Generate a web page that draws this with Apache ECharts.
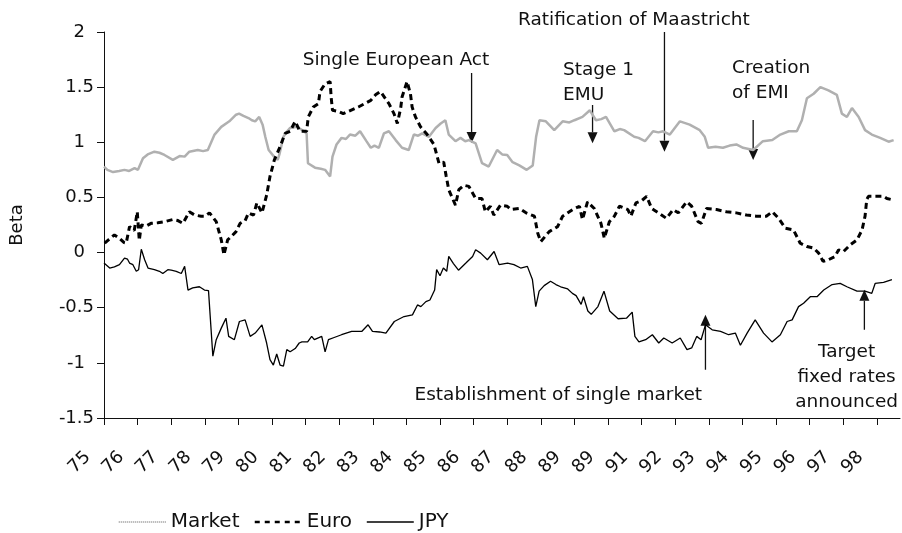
<!DOCTYPE html>
<html>
<head>
<meta charset="utf-8">
<style>
html, body { margin: 0; padding: 0; background: #fff; }
#container { width: 902px; height: 533px; }
</style>
</head>
<body>
<div id="container"></div>
<script src="https://cdn.jsdelivr.net/npm/echarts@6.0.0/dist/echarts.min.js"></script>
<script>
var dom = document.getElementById('container');
var myChart = echarts.init(dom, null, { renderer: 'canvas' });

// ticks on the time axis and the labels printed under them (source prints 89 twice)
const tickYears = [75, 76, 77, 78, 79, 80, 81, 82, 83, 84, 85, 86, 87, 88, 89, 90, 91, 92, 93, 94, 95, 96, 97, 98];
const tickLabels = ['75', '76', '77', '78', '79', '80', '81', '82', '83', '84', '85', '86', '87', '88', '89', '89', '91', '92', '93', '94', '95', '96', '97', '98'];

// [year, beta]
const marketBeta = [
    [75.00, 0.78], [75.10, 0.75], [75.27, 0.73], [75.45, 0.74], [75.61, 0.75], [75.75, 0.74], [75.91, 0.765], [76.01, 0.75],
    [76.16, 0.855], [76.30, 0.89], [76.50, 0.915], [76.65, 0.905], [76.80, 0.885], [77.05, 0.84], [77.25, 0.875], [77.40, 0.87],
    [77.54, 0.915], [77.79, 0.93], [77.95, 0.92], [78.09, 0.93], [78.29, 1.07], [78.49, 1.14], [78.73, 1.19], [78.93, 1.25],
    [79.02, 1.26], [79.15, 1.24], [79.30, 1.22], [79.40, 1.20], [79.50, 1.19], [79.62, 1.23], [79.72, 1.16], [79.80, 1.05],
    [79.90, 0.93], [80.06, 0.87], [80.17, 0.84], [80.22, 0.89], [80.34, 1.05], [80.45, 1.10], [80.54, 1.13], [80.74, 1.14],
    [80.85, 1.12], [80.95, 1.10], [81.03, 1.08], [81.07, 0.81], [81.28, 0.77], [81.45, 0.76], [81.58, 0.75], [81.73, 0.69],
    [81.80, 0.87], [81.92, 0.98], [82.07, 1.04], [82.20, 1.03], [82.32, 1.07], [82.48, 1.06], [82.62, 1.10], [82.81, 1.01],
    [82.94, 0.95], [83.05, 0.97], [83.18, 0.95], [83.33, 1.08], [83.48, 1.10], [83.68, 1.02], [83.87, 0.95], [84.07, 0.93],
    [84.22, 1.07], [84.35, 1.06], [84.47, 1.08], [84.67, 1.05], [84.87, 1.13], [85.02, 1.17], [85.16, 1.20], [85.26, 1.07],
    [85.46, 1.01], [85.61, 1.04], [85.75, 1.01], [85.86, 1.02], [86.06, 0.99], [86.25, 0.81], [86.45, 0.78], [86.70, 0.93],
    [86.85, 0.89], [87.00, 0.885], [87.16, 0.82], [87.36, 0.79], [87.58, 0.75], [87.76, 0.79], [87.86, 1.05], [87.96, 1.20],
    [88.15, 1.19], [88.40, 1.11], [88.65, 1.19], [88.85, 1.18], [89.00, 1.20], [89.24, 1.23], [89.46, 1.29], [89.64, 1.20],
    [89.80, 1.21], [89.94, 1.23], [90.19, 1.10], [90.35, 1.12], [90.48, 1.11], [90.78, 1.05], [90.91, 1.04], [91.10, 1.01],
    [91.34, 1.10], [91.50, 1.09], [91.64, 1.10], [91.84, 1.07], [92.14, 1.19], [92.43, 1.16], [92.73, 1.11], [92.88, 1.05],
    [92.98, 0.95], [93.20, 0.96], [93.42, 0.95], [93.62, 0.97], [93.82, 0.98], [94.02, 0.95], [94.32, 0.93], [94.61, 1.01],
    [94.89, 1.02], [95.13, 1.07], [95.38, 1.10], [95.62, 1.10], [95.77, 1.20], [95.92, 1.40], [96.12, 1.44], [96.32, 1.50],
    [96.56, 1.47], [96.81, 1.43], [96.96, 1.26], [97.11, 1.23], [97.26, 1.31], [97.46, 1.23], [97.65, 1.11], [97.85, 1.07],
    [98.10, 1.04], [98.35, 1.005], [98.50, 1.02]
];

const euroBeta = [
    [75.02, 0.085], [75.15, 0.12], [75.31, 0.16], [75.46, 0.13], [75.60, 0.09], [75.66, 0.085], [75.76, 0.235], [75.90, 0.20],
    [75.99, 0.37], [76.05, 0.11], [76.11, 0.25], [76.25, 0.24], [76.40, 0.265], [76.60, 0.27], [76.80, 0.28], [77.05, 0.30],
    [77.20, 0.29], [77.35, 0.265], [77.54, 0.37], [77.70, 0.34], [77.89, 0.33], [78.00, 0.33], [78.14, 0.36], [78.34, 0.28],
    [78.49, 0.115], [78.57, -0.02], [78.68, 0.115], [78.80, 0.15], [78.93, 0.19], [79.05, 0.265], [79.20, 0.29], [79.30, 0.36],
    [79.45, 0.34], [79.55, 0.45], [79.70, 0.36], [79.84, 0.52], [79.94, 0.69], [80.07, 0.84], [80.24, 0.96], [80.39, 1.08],
    [80.54, 1.10], [80.69, 1.19], [80.83, 1.10], [81.03, 1.10], [81.08, 1.23], [81.23, 1.32], [81.38, 1.35], [81.43, 1.46],
    [81.58, 1.53], [81.73, 1.55], [81.76, 1.41], [81.80, 1.29], [81.97, 1.28], [82.12, 1.26], [82.27, 1.28], [82.57, 1.32],
    [82.94, 1.38], [83.08, 1.43], [83.23, 1.46], [83.48, 1.35], [83.63, 1.26], [83.73, 1.17], [83.83, 1.31], [83.87, 1.41],
    [84.02, 1.55], [84.12, 1.44], [84.17, 1.32], [84.27, 1.23], [84.42, 1.14], [84.62, 1.07], [84.82, 0.98], [84.97, 0.81],
    [85.11, 0.82], [85.18, 0.70], [85.26, 0.57], [85.46, 0.43], [85.56, 0.57], [85.71, 0.61], [85.86, 0.60], [86.06, 0.49],
    [86.25, 0.49], [86.35, 0.37], [86.50, 0.42], [86.60, 0.34], [86.80, 0.43], [87.00, 0.42], [87.11, 0.39], [87.36, 0.40],
    [87.56, 0.36], [87.81, 0.33], [87.91, 0.175], [88.00, 0.10], [88.25, 0.19], [88.50, 0.235], [88.65, 0.33], [88.95, 0.39],
    [89.15, 0.42], [89.24, 0.30], [89.39, 0.46], [89.59, 0.40], [89.79, 0.265], [89.89, 0.13], [90.04, 0.28], [90.19, 0.33],
    [90.34, 0.42], [90.59, 0.39], [90.68, 0.33], [90.83, 0.45], [91.00, 0.47], [91.15, 0.51], [91.30, 0.40], [91.50, 0.36],
    [91.74, 0.31], [91.94, 0.39], [92.09, 0.36], [92.34, 0.46], [92.49, 0.42], [92.68, 0.28], [92.78, 0.265], [92.93, 0.40],
    [93.23, 0.39], [93.52, 0.37], [93.82, 0.36], [94.12, 0.34], [94.41, 0.33], [94.71, 0.33], [94.89, 0.37], [95.08, 0.31],
    [95.28, 0.22], [95.52, 0.205], [95.72, 0.085], [95.92, 0.055], [96.12, 0.04], [96.27, -0.005], [96.40, -0.08], [96.56, -0.065],
    [96.76, -0.035], [96.86, 0.025], [97.01, 0.01], [97.21, 0.07], [97.41, 0.115], [97.56, 0.205], [97.65, 0.33], [97.70, 0.48],
    [97.75, 0.51], [98.00, 0.51], [98.20, 0.51], [98.30, 0.49], [98.45, 0.48]
];

const jpyBeta = [
    [75.00, -0.095], [75.17, -0.14], [75.31, -0.13], [75.46, -0.11], [75.61, -0.05], [75.70, -0.06], [75.76, -0.095], [75.86, -0.11],
    [75.96, -0.17], [76.03, -0.155], [76.11, 0.03], [76.21, -0.065], [76.31, -0.14], [76.50, -0.155], [76.65, -0.17], [76.75, -0.19],
    [76.90, -0.155], [77.00, -0.16], [77.15, -0.17], [77.30, -0.19], [77.40, -0.125], [77.50, -0.34], [77.64, -0.32], [77.84, -0.31],
    [77.99, -0.34], [78.11, -0.345], [78.24, -0.94], [78.34, -0.79], [78.49, -0.685], [78.63, -0.595], [78.71, -0.76], [78.88, -0.79],
    [79.03, -0.625], [79.20, -0.61], [79.35, -0.76], [79.50, -0.73], [79.70, -0.655], [79.84, -0.82], [79.94, -0.97], [80.04, -1.02],
    [80.14, -0.92], [80.24, -1.02], [80.34, -1.03], [80.44, -0.88], [80.54, -0.90], [80.69, -0.87], [80.81, -0.82], [80.89, -0.81],
    [81.06, -0.81], [81.18, -0.76], [81.26, -0.79], [81.48, -0.76], [81.58, -0.90], [81.68, -0.79], [81.85, -0.77], [82.07, -0.745],
    [82.37, -0.715], [82.67, -0.715], [82.86, -0.655], [82.99, -0.715], [83.20, -0.72], [83.39, -0.73], [83.64, -0.625], [83.93, -0.58],
    [84.18, -0.565], [84.33, -0.475], [84.43, -0.49], [84.58, -0.445], [84.70, -0.43], [84.84, -0.34], [84.90, -0.155], [85.00, -0.21],
    [85.10, -0.14], [85.20, -0.17], [85.26, -0.035], [85.40, -0.10], [85.55, -0.16], [85.77, -0.095], [85.97, -0.035], [86.06, 0.025],
    [86.21, -0.005], [86.41, -0.065], [86.61, 0.01], [86.76, -0.11], [87.01, -0.095], [87.20, -0.11], [87.40, -0.14], [87.60, -0.125],
    [87.75, -0.245], [87.85, -0.49], [87.95, -0.35], [88.10, -0.30], [88.29, -0.26], [88.45, -0.29], [88.59, -0.31], [88.80, -0.33],
    [88.94, -0.37], [89.05, -0.39], [89.20, -0.47], [89.27, -0.40], [89.40, -0.53], [89.50, -0.56], [89.70, -0.49], [89.88, -0.35],
    [90.05, -0.53], [90.30, -0.60], [90.55, -0.595], [90.72, -0.54], [90.80, -0.76], [90.92, -0.81], [91.12, -0.79], [91.32, -0.745],
    [91.51, -0.82], [91.66, -0.775], [91.91, -0.82], [92.15, -0.775], [92.35, -0.88], [92.49, -0.865], [92.64, -0.76], [92.77, -0.79],
    [92.90, -0.655], [93.10, -0.70], [93.35, -0.715], [93.59, -0.745], [93.79, -0.73], [93.94, -0.84], [94.14, -0.73], [94.38, -0.61],
    [94.63, -0.73], [94.88, -0.81], [95.13, -0.745], [95.33, -0.625], [95.48, -0.61], [95.67, -0.49], [95.82, -0.46], [96.02, -0.40],
    [96.22, -0.40], [96.42, -0.34], [96.67, -0.29], [96.91, -0.28], [97.11, -0.31], [97.41, -0.35], [97.65, -0.35], [97.85, -0.37],
    [97.95, -0.28], [98.20, -0.27], [98.45, -0.245]
];

// event notes, placed in axis units (year, beta)
const notes = [
    { lines: ['Single European Act'], x: 83.69, y: 1.745, align: 'center', arrowX: 85.94, from: 1.628, to: 0.994 },
    { lines: ['Ratification of Maastricht'], x: 90.77, y: 2.103, align: 'center', arrowX: 91.68, from: 2.0, to: 0.915 },
    { lines: ['Stage 1', 'EMU'], x: 88.66, y: 1.542, align: 'left', arrowX: 89.54, from: 1.338, to: 0.991 },
    { lines: ['Creation', 'of EMI'], x: 93.69, y: 1.56, align: 'left', arrowX: 94.32, from: 1.202, to: 0.84 },
    { lines: ['Establishment of single market'], x: 88.52, y: -1.289, align: 'center', arrowX: 92.90, from: -1.0625, to: -0.564 },
    { lines: ['Target', 'fixed rates', 'announced'], x: 97.10, y: -1.126, align: 'center', arrowX: 97.63, from: -0.70, to: -0.338 }
];

const FONT = '"DejaVu Sans", sans-serif';
const ink = '#111';

var option = {
    backgroundColor: '#fff',
    animation: false,
    grid: { left: 103, right: 2, top: 32, bottom: 115, containLabel: false },
    legend: {
        left: 113,
        top: 507,
        itemWidth: 47,
        itemHeight: 12,
        itemGap: 14,
        itemStyle: { opacity: 0 },
        data: [
            { name: 'Market', lineStyle: { color: '#8c8c8c', width: 1.5, type: [1, 1] } },
            { name: 'Euro', lineStyle: { color: '#000', width: 2.5, type: [5, 5] } },
            { name: 'JPY', lineStyle: { color: '#000', width: 1.4 } }
        ],
        textStyle: { fontFamily: FONT, fontSize: 20, color: ink }
    },
    xAxis: {
        type: 'value',
        min: 75,
        max: 98.69,
        splitLine: { show: false },
        axisLine: { onZero: false, lineStyle: { color: ink, width: 1 } },
        axisTick: { customValues: tickYears, length: 7, lineStyle: { color: ink } },
        axisLabel: {
            customValues: tickYears,
            rotate: 45,
            margin: 20,
            padding: [0, 23, 0, 0],
            fontFamily: FONT,
            fontSize: 18,
            color: ink,
            formatter: function (v) {
                var i = tickYears.indexOf(Math.round(v));
                return i < 0 ? '' : tickLabels[i];
            }
        }
    },
    yAxis: {
        type: 'value',
        min: -1.5,
        max: 2,
        interval: 0.5,
        name: 'Beta',
        nameLocation: 'middle',
        nameGap: 78,
        nameTextStyle: { fontFamily: FONT, fontSize: 18, color: ink },
        splitLine: { show: false },
        axisLine: { show: true, onZero: false, lineStyle: { color: ink, width: 1 } },
        axisTick: { show: true, length: 7, lineStyle: { color: ink } },
        axisLabel: {
            margin: 10,
            fontFamily: FONT,
            fontSize: 18,
            color: ink,
            formatter: function (v) {
                return Number.isInteger(v) ? '{i|' + v + '}' : String(v);
            },
            rich: { i: { padding: [0, 9, 0, 0], fontFamily: FONT, fontSize: 18, color: ink } }
        }
    },
    series: [
        {
            name: 'Market',
            type: 'line',
            symbol: 'none',
            data: marketBeta,
            lineStyle: { color: '#b0b0b0', width: 2.5 },
            itemStyle: { color: '#b0b0b0' }
        },
        {
            name: 'Euro',
            type: 'line',
            symbol: 'none',
            data: euroBeta,
            lineStyle: { color: '#000', width: 3, type: [6, 4] },
            itemStyle: { color: '#000' }
        },
        {
            name: 'JPY',
            type: 'line',
            symbol: 'none',
            data: jpyBeta,
            lineStyle: { color: '#000', width: 1.3 },
            itemStyle: { color: '#000' }
        }
    ]
};

myChart.setOption(option);

// notes and arrows, positioned through the chart's own scales
var graphics = [];
notes.forEach(function (n) {
    var t = myChart.convertToPixel({ gridIndex: 0 }, [n.x, n.y]);
    graphics.push({
        type: 'text', x: t[0], y: t[1], silent: true,
        style: {
            text: n.lines.join('\n'), fontFamily: FONT, fontSize: 18.5, fill: ink,
            align: n.align, verticalAlign: 'middle', lineHeight: 25
        }
    });
    var a = myChart.convertToPixel({ gridIndex: 0 }, [n.arrowX, n.from]);
    var b = myChart.convertToPixel({ gridIndex: 0 }, [n.arrowX, n.to]);
    var dir = b[1] > a[1] ? 1 : -1;
    var baseY = b[1] - dir * 11;
    graphics.push({
        type: 'line', silent: true,
        shape: { x1: a[0], y1: a[1], x2: b[0], y2: baseY },
        style: { stroke: ink, lineWidth: 1.3 }
    });
    graphics.push({
        type: 'polygon', silent: true,
        shape: { points: [[b[0] - 5, baseY], [b[0] + 5, baseY], [b[0], b[1]]] },
        style: { fill: ink }
    });
});
myChart.setOption({ graphic: graphics });

window.addEventListener('resize', myChart.resize);
</script>
</body>
</html>
